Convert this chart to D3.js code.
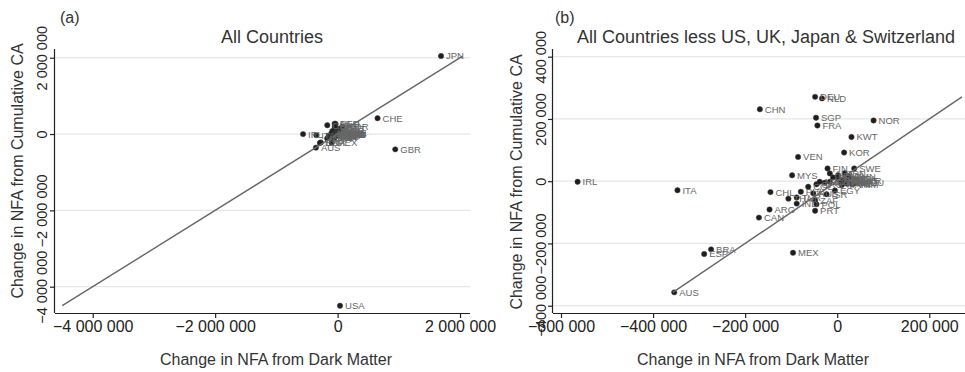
<!DOCTYPE html>
<html>
<head>
<meta charset="utf-8">
<script src="https://cdn.jsdelivr.net/npm/d3@7/dist/d3.min.js"></script>
<style>
  html, body { margin: 0; padding: 0; background: #fff; }
  svg { display: block; font-family: "Liberation Sans", Arial, Helvetica, sans-serif; }
</style>
</head>
<body>
<svg id="chart" width="965" height="372"></svg>
<script>
// ---------------- DATA ----------------
const countries = ["JPN","USA","GBR","CHE","DEU","NLD","CHN","SGP","FRA","NOR","KWT","KOR","VEN","FIN","SWE","MYS",
  "IRL","ITA","CHL","ARG","CAN","BRA","ESP","MEX","AUS","POL","PRT","THA","TUR","IND","PHL","COL","RUS","ISR","ZAF",
  "GRC","NZL","HUN","AUT","BEL","DNK","CZE","PER","PAK","HKG","TWN","SAU","ARE","ISL","LUX","NGA","VNM","QAT","KAZ",
  "UKR","ROU","BGD","MAR","IRN","OMN","EGY"];
// Change in NFA from Dark Matter (x)
const darkMatter = [1690000, 40000, 942000, 653000, -48000, -33000, -168000, -46000, -43000, 79000, 31000, 15000, -85000, -21000, 37000, -98000,
  -564000, -347000, -145000, -147000, -170000, -274000, -289000, -96000, -354000, -45000, -48000, -106000, -88000, -88000, -79000, -63000, -52000, -23000, -48000,
  -45000, -38000, -27000, -16000, -9000, 2000, -16000, 3000, 8000, 12000, 15000, 18000, 22000, 25000, 28000, 30000, 33000, 36000, 38000,
  42000, 45000, 20000, 10000, 16000, 25000, -5000];
// Change in NFA from Cumulative CA (y)
const cumulativeCA = [2043000, -4498000, -401000, 415000, 271000, 266000, 231000, 204000, 179000, 195000, 142000, 92000, 78000, 41000, 41000, 19000,
  -2000, -29000, -35000, -91000, -117000, -219000, -234000, -230000, -357000, -74000, -95000, -56000, -52000, -72000, -34000, -18000, -39000, -42000, -61000,
  -10000, -2000, -5000, 25000, 12000, 19000, -2000, 5000, -3000, 6000, -6000, 2000, -8000, 4000, -4000, 8000, -10000, 1000, -6000,
  3000, -3000, 10000, -12000, 26000, 15000, -30000];
const excludedInB = ["USA","GBR","JPN","CHE"];

const titleA = "All Countries";
const titleB = "All Countries less US, UK, Japan & Switzerland";
const xAxisTitle = "Change in NFA from Dark Matter";
const yAxisTitle = "Change in NFA from Cumulative CA";

const xTicksA = [-4000000, -2000000, 0, 2000000];
const yTicksA = [-4000000, -2000000, 0, 2000000];
const xTicksB = [-600000, -400000, -200000, 0, 200000];
const yTicksB = [-400000, -200000, 0, 200000, 400000];

// ---------------- LAYOUT ----------------
const rows = countries.map((c, i) => ({ code: c, x: darkMatter[i], y: cumulativeCA[i] }));
const rowsB = rows.filter(d => !excludedInB.includes(d.code));

const fmt = d3.formatLocale({ decimal: ".", thousands: " ", grouping: [3], currency: ["", ""], minus: "\u2212" }).format(",");

const svg = d3.select("#chart");

const panels = [
  { tag: "(a)", tagX: 60, title: titleA, titleX: 272, data: rows,
    left: 55, right: 470, top: 49, bottom: 313,
    xDomain: [-4616000, 2163000], yDomain: [-4689000, 2228000],
    xTicks: xTicksA, yTicks: yTicksA, yTitleX: 23, yTitleY: 171, xTitleX: 276, yLabX: 47 },
  { tag: "(b)", tagX: 555, title: titleB, titleX: 766, data: rowsB,
    left: 553, right: 965, top: 49, bottom: 313,
    xDomain: [-617400, 277600], yDomain: [-423400, 424700],
    xTicks: xTicksB, yTicks: yTicksB, yTitleX: 522, yTitleY: 182, xTitleX: 753, yLabX: 546 }
];

panels.forEach(p => {
  const g = svg.append("g");
  const x = d3.scaleLinear().domain(p.xDomain).range([p.left, p.right]);
  const y = d3.scaleLinear().domain(p.yDomain).range([p.bottom, p.top]);

  // gridlines
  g.append("g").selectAll("line").data(p.yTicks).join("line")
    .attr("x1", p.left).attr("x2", p.right)
    .attr("y1", d => y(d)).attr("y2", d => y(d))
    .attr("stroke", "#e6e6e6").attr("stroke-width", 1.3);

  // axes
  const xAxis = d3.axisBottom(x).tickValues(p.xTicks).tickSize(5).tickFormat(fmt);
  const gx = g.append("g").attr("transform", `translate(0,${p.bottom})`).call(xAxis);
  gx.select(".domain").attr("d", `M${p.left},0.5H${p.right}`).attr("stroke", "#222").attr("stroke-width", 1.2);
  gx.selectAll(".tick line").attr("stroke", "#222").attr("stroke-width", 1.2);
  gx.selectAll(".tick text").attr("fill", "#222").attr("font-size", 16)
    .attr("font-family", "'Liberation Sans', Arial, sans-serif").attr("y", 8).attr("dy", "0.71em");

  const yAxis = d3.axisLeft(y).tickValues(p.yTicks).tickSize(5).tickFormat(fmt);
  const gy = g.append("g").attr("transform", `translate(${p.left},0)`).call(yAxis);
  gy.select(".domain").attr("d", `M-0.5,${p.top}V${p.bottom}`).attr("stroke", "#222").attr("stroke-width", 1.2);
  gy.selectAll(".tick line").attr("stroke", "#222").attr("stroke-width", 1.2);
  gy.selectAll(".tick text").attr("fill", "#222").attr("font-size", 14.5)
    .attr("font-family", "'Liberation Sans', Arial, sans-serif")
    .attr("x", null).attr("dy", null)
    .attr("text-anchor", "middle")
    .attr("transform", `translate(${p.yLabX - p.left},0) rotate(-90)`);

  // markers
  g.append("g").selectAll("circle").data(p.data).join("circle")
    .attr("cx", d => x(d.x)).attr("cy", d => y(d.y)).attr("r", 2.7)
    .attr("fill", "#1e1e1e").attr("stroke", "#444").attr("stroke-width", 0.5);

  // labels
  g.append("g").selectAll("text").data(p.data).join("text")
    .attr("x", d => x(d.x) + 5).attr("y", d => y(d.y)).attr("dy", "0.36em")
    .attr("font-size", 9.5).attr("fill", "#666").text(d => d.code);

  // 45-degree line spanning the range of y
  const yMin = d3.min(p.data, d => d.y), yMax = d3.max(p.data, d => d.y);
  g.append("line")
    .attr("x1", x(yMin)).attr("y1", y(yMin))
    .attr("x2", x(yMax)).attr("y2", y(yMax))
    .attr("stroke", "#666").attr("stroke-width", 1.4);

  // titles
  g.append("text").attr("x", p.titleX).attr("y", 43).attr("text-anchor", "middle")
    .attr("font-size", 18).attr("fill", "#333").text(p.title);
  g.append("text").attr("x", p.tagX).attr("y", 23)
    .attr("font-size", 16).attr("fill", "#333").text(p.tag);
  g.append("text").attr("x", p.xTitleX).attr("y", 365).attr("text-anchor", "middle")
    .attr("font-size", 16).attr("fill", "#333").text(xAxisTitle);
  g.append("text").attr("transform", `translate(${p.yTitleX},${p.yTitleY}) rotate(-90)`)
    .attr("text-anchor", "middle").attr("font-size", 16).attr("fill", "#333").text(yAxisTitle);
});
</script>
</body>
</html>
